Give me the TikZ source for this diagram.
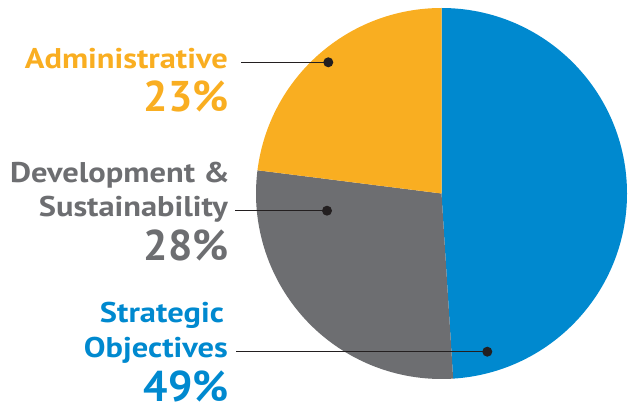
\documentclass[tikz,border=0pt]{standalone}
\usepackage{fontspec}
\setmainfont{PT Sans}
\newfontfamily\lblfont{PT Sans}[FakeStretch=1.14]
\definecolor{porange}{HTML}{F9AE21}
\definecolor{pgrey}{HTML}{6D6E71}
\definecolor{pblue}{HTML}{0089CF}
\definecolor{pdark}{HTML}{231F20}
\begin{document}
\begin{tikzpicture}[x=1pt,y=-1pt,
  lbl/.style={anchor=base east,inner sep=0pt,font=\lblfont\bfseries\fontsize{28.5}{30}\selectfont},
  pct/.style={anchor=base east,inner sep=0pt,font=\bfseries\fontsize{43}{45}\selectfont},
  dot/.style={circle,fill=pdark,inner sep=0pt,minimum size=10pt},
  leader/.style={draw=pdark,line width=1.3pt}]
\useasboundingbox (0,0) rectangle (634,406);
\coordinate (c) at (441.5,193.5);
\def\R{185.5}
% pie slices
\fill[pblue] (c) -- ++(-90:\R) arc[start angle=-90,end angle=86.4,radius=\R] -- cycle;
\fill[pgrey] (c) -- ++(86.4:\R) arc[start angle=86.4,end angle=187.2,radius=\R] -- cycle;
\fill[porange] (c) -- ++(187.2:\R) arc[start angle=187.2,end angle=270,radius=\R] -- cycle;
% labels
\node[lbl,text=porange] (adm) at (228,68.3) {Administrative};
\node[pct,text=porange] (admp) at (229,111.7) {23\%};
\node[lbl,text=pgrey] (dev) at (230,182.5) {Development \&};
\node[lbl,text=pgrey] (sus) at (228,216) {Sustainability};
\node[pct,text=pgrey] (susp) at (229,260) {28\%};
\node[lbl,text=pblue] (str) at (224,322) {Strategic};
\node[lbl,text=pblue] (obj) at (228,357) {Objectives};
\node[pct,text=pblue] (objp) at (229,401) {49\%};
% dots and leaders
\node[dot] (da) at (328.3,62.3) {};
\node[dot] (dd) at (327,210.7) {};
\node[dot] (ds) at (487.3,351.7) {};
\coordinate (sa) at (241,62.3);
\coordinate (sd) at (235,210.7);
\coordinate (ss) at (236,351.7);
\draw[leader] (sa) -- (da.center);
\draw[leader] (sd) -- (dd.center);
\draw[leader] (ss) -- (ds.center);
\end{tikzpicture}
\end{document}
